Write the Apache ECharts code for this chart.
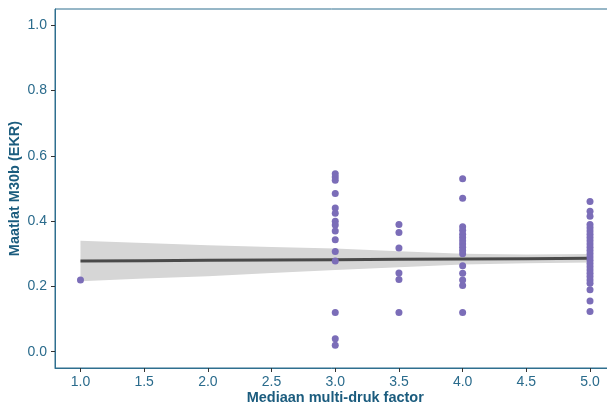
<!DOCTYPE html>
<html>
<head>
<meta charset="utf-8">
<script src="https://cdn.jsdelivr.net/npm/echarts@6/dist/echarts.min.js"></script>
<style>html,body{margin:0;padding:0;background:#fff;}#c{width:607px;height:403px;}</style>
</head>
<body>
<div id="c"></div>
<script>
// Observations: median multi-print factor (x) vs M30b EKR score (y)
const x1 = [1.0];
const y1 = [0.22];
const x3 = 3.0;
const y3 = [0.545, 0.535, 0.525, 0.485, 0.44, 0.424, 0.40, 0.388, 0.37, 0.343, 0.307, 0.278, 0.12, 0.04, 0.02];
const x35 = 3.5;
const y35 = [0.39, 0.365, 0.318, 0.241, 0.221, 0.12];
const x4 = 4.0;
const y4 = [0.53, 0.47, 0.383, 0.372, 0.36, 0.35, 0.34, 0.33, 0.32, 0.31, 0.30, 0.263, 0.24, 0.22, 0.203, 0.12];
const x5 = 5.0;
const y5 = [0.46, 0.43, 0.415, 0.39, 0.38, 0.37, 0.36, 0.35, 0.34, 0.33, 0.32, 0.31, 0.30, 0.29, 0.28, 0.27, 0.26, 0.25, 0.24, 0.23, 0.22, 0.21, 0.19, 0.155, 0.123];

// Linear fit and confidence band
const fitX = [1.0, 1.5, 2.0, 2.5, 3.0, 3.5, 4.0, 4.5, 5.0];
const fitY = [0.278, 0.279, 0.280, 0.281, 0.282, 0.283, 0.284, 0.285, 0.286];
const ciLow = [0.216, 0.224, 0.231, 0.241, 0.250, 0.259, 0.267, 0.271, 0.273];
const ciHigh = [0.340, 0.333, 0.326, 0.321, 0.316, 0.308, 0.300, 0.298, 0.299];

const xTicks = [1.0, 1.5, 2.0, 2.5, 3.0, 3.5, 4.0, 4.5, 5.0];
const yTicks = [0.0, 0.2, 0.4, 0.6, 0.8, 1.0];

const points = [];
x1.forEach((x, i) => points.push([x, y1[i]]));
y3.forEach(v => points.push([x3, v]));
y35.forEach(v => points.push([x35, v]));
y4.forEach(v => points.push([x4, v]));
y5.forEach(v => points.push([x5, v]));

const bandData = fitX.map((x, i) => [x, ciLow[i], ciHigh[i]]);

const axisCol = '#2f6f8f';
const textCol = '#2a6b8c';
const titleCol = '#1b5c7e';
const font = 'Liberation Sans, Arial, sans-serif';

const chart = echarts.init(document.getElementById('c'), null, {renderer: 'canvas'});
chart.setOption({
  animation: false,
  backgroundColor: '#ffffff',
  grid: {left: 55, top: 9, width: 560.5, height: 359, outerBoundsMode: 'none', containLabel: false,
         show: true, borderColor: axisCol, borderWidth: 1, backgroundColor: 'transparent'},
  xAxis: {
    type: 'value', min: 0.8, max: 5.2,
    name: 'Mediaan multi-druk factor', nameLocation: 'middle', nameGap: 22, nameMoveOverlap: false,
    nameTextStyle: {color: titleCol, fontWeight: 'bold', fontSize: 14.5, fontFamily: font},
    axisLine: {show: true, onZero: false, lineStyle: {color: axisCol, width: 1}},
    axisTick: {show: true, length: 4, customValues: xTicks, lineStyle: {color: '#333'}},
    axisLabel: {customValues: xTicks, color: textCol, fontSize: 14, fontFamily: font, margin: 7, formatter: v => v.toFixed(1)},
    splitLine: {show: false}
  },
  yAxis: {
    type: 'value', min: -0.05, max: 1.05,
    name: 'Maatlat M30b (EKR)', nameLocation: 'middle', nameGap: 33, nameMoveOverlap: false,
    nameTextStyle: {color: titleCol, fontWeight: 'bold', fontSize: 14.5, fontFamily: font},
    axisLine: {show: true, onZero: false, lineStyle: {color: axisCol, width: 1}},
    axisTick: {show: true, length: 4, customValues: yTicks, lineStyle: {color: '#333'}},
    axisLabel: {customValues: yTicks, color: textCol, fontSize: 14, fontFamily: font, margin: 8, formatter: v => v.toFixed(1)},
    splitLine: {show: false}
  },
  series: [
    {
      type: 'custom', data: bandData, silent: true, z: 1,
      encode: {x: 0, y: [1, 2]},
      renderItem: function (params, api) {
        if (params.dataIndex !== 0) return null;
        const up = [], lo = [];
        for (let i = 0; i < bandData.length; i++) {
          up.push(api.coord([bandData[i][0], bandData[i][2]]));
          lo.unshift(api.coord([bandData[i][0], bandData[i][1]]));
        }
        return {type: 'polygon', shape: {points: up.concat(lo)}, style: {fill: '#d6d6d6'}};
      }
    },
    {type: 'line', data: fitX.map((x, i) => [x, fitY[i]]), symbol: 'none', lineStyle: {color: '#4a4a4a', width: 3}, z: 2},
    {type: 'scatter', data: points, symbolSize: 7, itemStyle: {color: '#7b6db8', opacity: 1}, z: 3}
  ]
});
</script>
</body>
</html>
